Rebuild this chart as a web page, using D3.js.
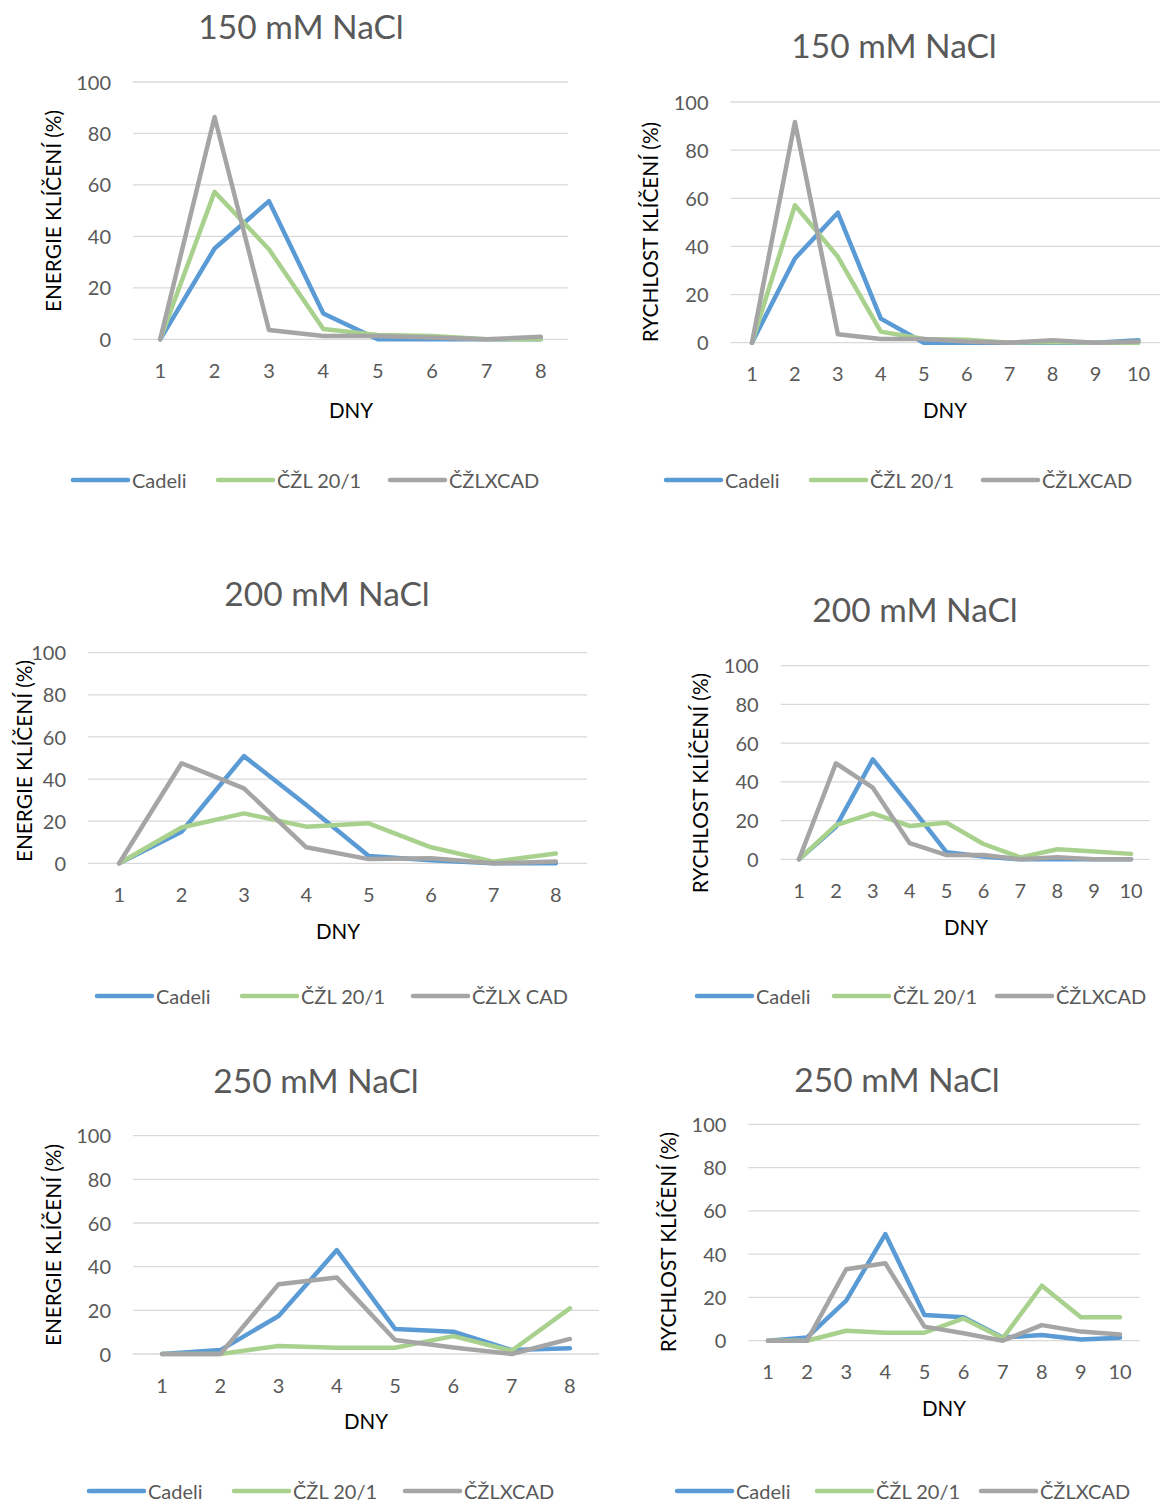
<!DOCTYPE html>
<html>
<head>
<meta charset="utf-8">
<script src="https://cdn.jsdelivr.net/npm/d3@7"></script>
<style>
  body { margin: 0; background: #fff; }
  text { font-family: Lato, "Open Sans", sans-serif; }
</style>
</head>
<body>
<div id="chart"></div>
<script>
// series names and colours
var seriesNames = ['Cadeli', 'ČŽL 20/1', 'ČŽLXCAD'];
var seriesNames200 = ['Cadeli', 'ČŽL 20/1', 'ČŽLX CAD'];
var colors = ['#5B9BD5', '#A9D18E', '#A5A5A5'];
var yTicks = [0, 20, 40, 60, 80, 100];
var days8 = ['1', '2', '3', '4', '5', '6', '7', '8'];
var days10 = ['1', '2', '3', '4', '5', '6', '7', '8', '9', '10'];

// 150 mM NaCl - energie klíčení
var e150Cadeli = [0, 35.3, 53.7, 10, 0, 0, 0, 0];
var e150Czl = [0, 57.3, 35, 4, 1.7, 1.3, 0, 0];
var e150Cad = [0, 86.4, 3.6, 1.3, 1.3, 0.7, 0, 1];
// 150 mM NaCl - rychlost klíčení
var r150Cadeli = [0, 35, 54, 10, 0, 0, 0, 0, 0, 1];
var r150Czl = [0, 57.1, 35.7, 4.6, 1.5, 1.2, 0, 0.3, 0, 0];
var r150Cad = [0, 91.7, 3.5, 1.5, 1.5, 0.5, 0, 1, 0, 0.5];
// 200 mM NaCl - energie klíčení
var e200Cadeli = [0, 15, 50.9, 27.7, 3.5, 1.5, 0, 0];
var e200Czl = [0, 17, 23.7, 17.4, 19, 7.6, 0.8, 4.7];
var e200Cad = [0, 47.5, 35.6, 7.6, 2, 2.4, 0, 0.8];
// 200 mM NaCl - rychlost klíčení
var r200Cadeli = [0, 16.8, 51.6, 28, 3.6, 1.4, 0, 0, 0, 0];
var r200Czl = [0, 17.7, 23.7, 17.2, 18.9, 7.9, 1, 5.2, 4, 2.8];
var r200Cad = [0, 49.6, 37, 8.3, 2.2, 2.2, 0, 1, 0, 0];
// 250 mM NaCl - energie klíčení
var e250Cadeli = [0, 1.8, 17.4, 47.6, 11.5, 10.2, 1.8, 2.6];
var e250Czl = [0, 0, 3.7, 2.9, 2.9, 8.2, 1.5, 20.9];
var e250Cad = [0, 0, 32, 35, 6.4, 3, 0, 6.9];
// 250 mM NaCl - rychlost klíčení
var r250Cadeli = [0, 1.5, 18.5, 49.3, 11.9, 10.8, 1.5, 2.6, 0.6, 1.4];
var r250Czl = [0, 0, 4.6, 3.7, 3.7, 10.3, 1.1, 25.4, 10.8, 10.8];
var r250Cad = [0, 0, 33, 35.8, 6.5, 3.4, 0, 7.2, 4.2, 2.9];

var yTitleE = 'ENERGIE KLÍČENÍ (%)';
var yTitleR = 'RYCHLOST KLÍČENÍ (%)';

var panels = [
  { title: '150 mM NaCl', titleX: 301, titleY: 28, left: 133, right: 568, top: 82, bottom: 339.3,
    days: days8, series: [e150Cadeli, e150Czl, e150Cad], names: seriesNames, yTitle: yTitleE,
    yTitleX: 53, yTitleY: 211, dnyX: 351, dnyY: 410, legY: 480, legX: [73, 218, 390] },
  { title: '150 mM NaCl', titleX: 894, titleY: 47, left: 730.5, right: 1160, top: 102, bottom: 342.7,
    days: days10, series: [r150Cadeli, r150Czl, r150Cad], names: seriesNames, yTitle: yTitleR,
    yTitleX: 650, yTitleY: 232, dnyX: 945, dnyY: 410, legY: 480, legX: [666, 811, 983] },
  { title: '200 mM NaCl', titleX: 327, titleY: 595, left: 88, right: 587, top: 652.7, bottom: 863.3,
    days: days8, series: [e200Cadeli, e200Czl, e200Cad], names: seriesNames200, yTitle: yTitleE,
    yTitleX: 24, yTitleY: 761, dnyX: 338, dnyY: 931, legY: 996, legX: [97, 242, 413] },
  { title: '200 mM NaCl', titleX: 915, titleY: 611, left: 780.6, right: 1149.5, top: 665.7, bottom: 859.3,
    days: days10, series: [r200Cadeli, r200Czl, r200Cad], names: seriesNames, yTitle: yTitleR,
    yTitleX: 700, yTitleY: 783, dnyX: 966, dnyY: 927, legY: 996, legX: [697, 834, 997] },
  { title: '250 mM NaCl', titleX: 316, titleY: 1082, left: 133, right: 599, top: 1135.7, bottom: 1354,
    days: days8, series: [e250Cadeli, e250Czl, e250Cad], names: seriesNames, yTitle: yTitleE,
    yTitleX: 53, yTitleY: 1245, dnyX: 366, dnyY: 1421, legY: 1491, legX: [89, 234, 405] },
  { title: '250 mM NaCl', titleX: 897, titleY: 1081, left: 748.4, right: 1139.6, top: 1124.3, bottom: 1340.7,
    days: days10, series: [r250Cadeli, r250Czl, r250Cad], names: seriesNames, yTitle: yTitleR,
    yTitleX: 668, yTitleY: 1242, dnyX: 944, dnyY: 1408, legY: 1491, legX: [677, 817, 981] }
];

var dy = 2.5; // nudge text down so Lato centres like the original

var svg = d3.select('#chart').append('svg')
  .attr('width', 1160)
  .attr('height', 1502);

panels.forEach(function (p) {
  var g = svg.append('g');
  var x = d3.scaleBand().domain(p.days).range([p.left, p.right]);
  var y = d3.scaleLinear().domain([0, 100]).range([p.bottom, p.top]);

  // title
  g.append('text')
    .attr('x', p.titleX).attr('y', p.titleY + dy)
    .attr('text-anchor', 'middle').attr('dominant-baseline', 'middle')
    .attr('font-size', 33.5).attr('fill', '#595959')
    .text(p.title);

  // gridlines
  g.selectAll('.grid').data(yTicks).enter().append('line')
    .attr('x1', p.left).attr('x2', p.right)
    .attr('y1', function (d) { return y(d); })
    .attr('y2', function (d) { return y(d); })
    .attr('stroke', '#D9D9D9').attr('stroke-width', 1.3);

  // y tick labels
  g.selectAll('.ytick').data(yTicks).enter().append('text')
    .attr('x', p.left - 22)
    .attr('y', function (d) { return y(d) + dy; })
    .attr('text-anchor', 'end').attr('dominant-baseline', 'middle')
    .attr('font-size', 20).attr('fill', '#595959')
    .text(function (d) { return d; });

  // x tick labels
  g.selectAll('.xtick').data(p.days).enter().append('text')
    .attr('x', function (d) { return x(d) + x.bandwidth() / 2; })
    .attr('y', p.bottom + 31 + dy)
    .attr('text-anchor', 'middle').attr('dominant-baseline', 'middle')
    .attr('font-size', 20).attr('fill', '#595959')
    .text(function (d) { return d; });

  // axis titles
  g.append('text')
    .attr('x', p.dnyX).attr('y', p.dnyY + dy)
    .attr('text-anchor', 'middle').attr('dominant-baseline', 'middle')
    .attr('font-size', 20.5).attr('fill', '#000')
    .text('DNY');

  g.append('text')
    .attr('transform', 'translate(' + (p.yTitleX + dy) + ',' + p.yTitleY + ') rotate(-90)')
    .attr('text-anchor', 'middle').attr('dominant-baseline', 'middle')
    .attr('font-size', 20.8).attr('fill', '#000')
    .text(p.yTitle);

  // lines
  var line = d3.line()
    .x(function (d, i) { return x(p.days[i]) + x.bandwidth() / 2; })
    .y(function (d) { return y(d); });

  p.series.forEach(function (s, k) {
    g.append('path')
      .datum(s)
      .attr('d', line)
      .attr('fill', 'none')
      .attr('stroke', colors[k])
      .attr('stroke-width', 4.5)
      .attr('stroke-linejoin', 'round')
      .attr('stroke-linecap', 'round');
  });

  // legend
  p.names.forEach(function (name, k) {
    var lx = p.legX[k];
    g.append('line')
      .attr('x1', lx).attr('x2', lx + 55)
      .attr('y1', p.legY).attr('y2', p.legY)
      .attr('stroke', colors[k]).attr('stroke-width', 4.5)
      .attr('stroke-linecap', 'round');
    g.append('text')
      .attr('x', lx + 59).attr('y', p.legY + dy)
      .attr('dominant-baseline', 'middle')
      .attr('font-size', 20).attr('fill', '#595959')
      .text(name);
  });
});
</script>
</body>
</html>
